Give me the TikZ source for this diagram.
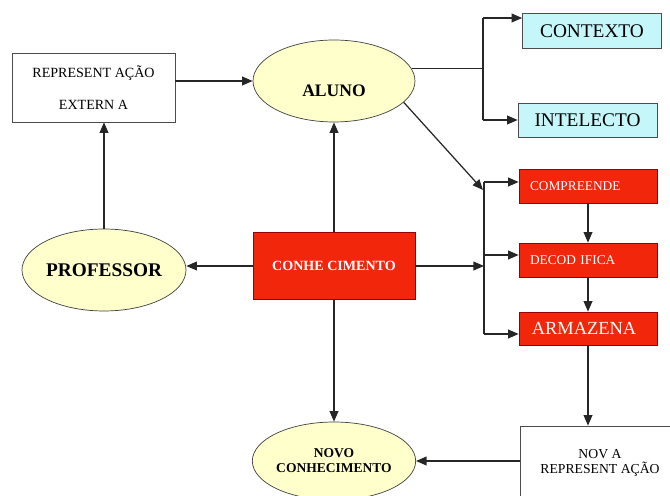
\documentclass[tikz,border=0pt]{standalone}
\usepackage{fontspec}
\setmainfont{Liberation Serif}
\usetikzlibrary{shapes.geometric,arrows.meta}
\definecolor{ylw}{RGB}{255,255,204}
\definecolor{cyn}{RGB}{196,246,250}
\definecolor{rd}{RGB}{242,38,10}
\tikzset{
	ellip/.style={ellipse,draw=black!75,fill=ylw,inner sep=0pt,minimum width=3.24cm,minimum height=1.64cm,font=\bfseries},
	wbox/.style={rectangle,draw=black!70,fill=white,inner sep=0pt,align=center,font=\fontsize{8}{9}\selectfont},
	cbox/.style={rectangle,draw=black!70,fill=cyn,inner sep=0pt,minimum width=2.78cm,minimum height=0.69cm,font=\fontsize{11}{13}\selectfont},
	rbox/.style={rectangle,draw=red!60!black,fill=rd,text=white,inner sep=0pt,minimum height=0.68cm,font=\fontsize{7.6}{9}\selectfont},
	rproc/.style={rbox,align=left,inner xsep=0.22cm,text width=2.32cm},
	arr/.style={draw=black!85,line width=0.7pt,-{Triangle[length=6pt,width=5pt]}},
	ln/.style={draw=black!85,line width=0.7pt}
}
\begin{document}
\begin{tikzpicture}[x=0.02cm,y=-0.02cm]
	\useasboundingbox[fill=white] (0,0) rectangle (670,496);
	\node [wbox,minimum width=3.26cm,minimum height=1.38cm,font=\fontsize{8}{18}\selectfont] (rep) at (93.5,87.5) {REPRESENT AÇÃO\\EXTERN A};
	\node [ellip,font=\bfseries\fontsize{10}{12}\selectfont] (aluno) at (334,81) {\raisebox{-9pt}[0pt][0pt]{ALUNO}};
	\node [ellip,font=\bfseries\fontsize{11}{13}\selectfont] (professor) at (104,270) {PROFESSOR};
	\node [rbox,minimum width=3.24cm,minimum height=1.34cm,font=\bfseries\fontsize{8}{10}\selectfont] (conhec) at (334,266) {CONHE CIMENTO};
	\node [ellip,minimum height=1.56cm,font=\bfseries\fontsize{7.7}{8.6}\selectfont,align=center] (novo) at (334,461) {NOVO\\CONHECIMENTO};
	\node [cbox] (contexto) at (592,31) {CONTEXTO};
	\node [cbox] (intelecto) at (587.5,120.5) {INTELECTO};
	\node [rproc] (compreende) at (588,186) {COMPREENDE};
	\node [rproc] (decodifica) at (588,260) {DECOD IFICA};
	\node [rproc,minimum height=0.66cm,font=\fontsize{10.5}{12}\selectfont] (armazena) at (588,328.5) {\hspace{1pt}ARMAZENA};
	\node [wbox,minimum width=3.2cm,minimum height=1.48cm,font=\fontsize{7.8}{8.6}\selectfont] (novarep) at (600,463) {NOV A\\REPRESENT AÇÃO};

	\coordinate (b1) at (483,18);
	\coordinate (b2) at (483,120);
	\coordinate (c1) at (484,182);
	\coordinate (c2) at (484,255);
	\coordinate (c3) at (484,334);
	\coordinate (d) at (483,190);

	\draw [arr] (rep.east |- aluno.west) -- (aluno.west);
	\draw [arr] (professor.north) -- (professor.north |- rep.south);
	\draw [arr] (conhec.north) -- (aluno.south);
	\draw [arr] (conhec.west) -- (conhec.west -| professor.east);
	\draw [arr] (conhec.south) -- (novo.north);
	\draw [ln] (aluno.9) -- (aluno.9 -| b1);
	\draw [ln] (b1) -- (b2);
	\draw [arr] (b1) -- (b1 -| contexto.west);
	\draw [arr] (b2) -- (b2 -| intelecto.west);
	\draw [arr] (aluno.-17) -- (d);
	\draw [ln] (c1) -- (c3);
	\draw [arr] (c1) -- (c1 -| compreende.west);
	\draw [arr] (c2) -- (c2 -| decodifica.west);
	\draw [arr] (c3) -- (c3 -| armazena.west);
	\draw [arr] (conhec.east) -- (conhec.east -| c1);
	\draw [arr] (compreende.south) -- (decodifica.north);
	\draw [arr] (decodifica.south) -- (armazena.north);
	\draw [arr] (armazena.south) -- (armazena.south |- novarep.north);
	\draw [arr] (novarep.west |- novo.east) -- (novo.east);
\end{tikzpicture}
\end{document}
